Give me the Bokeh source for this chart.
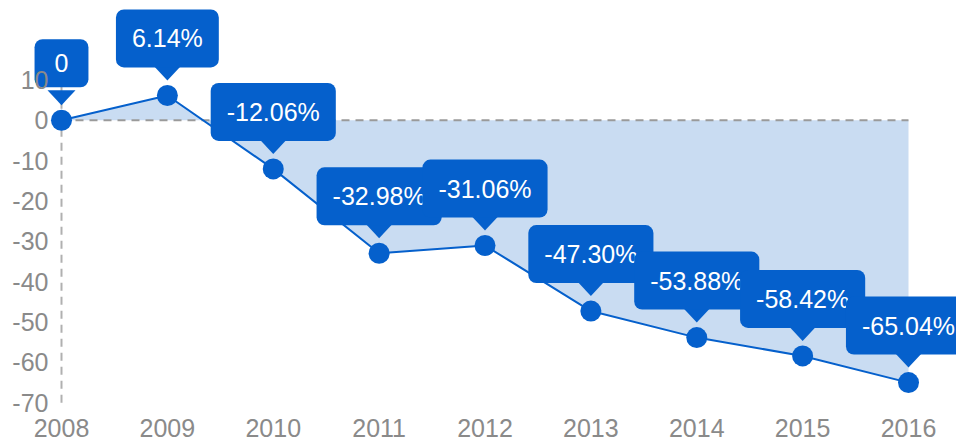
from bokeh.plotting import figure
from bokeh.models import Range1d, FixedTicker, Label, PrintfTickFormatter
from bokeh.embed import file_html
from bokeh.resources import INLINE

years = [2008, 2009, 2010, 2011, 2012, 2013, 2014, 2015, 2016]
values = [0, 6.14, -12.06, -32.98, -31.06, -47.30, -53.88, -58.42, -65.04]
labels = ["0", "6.14%", "-12.06%", "-32.98%", "-31.06%", "-47.30%", "-53.88%", "-58.42%", "-65.04%"]
y_ticks = [-70, -60, -50, -40, -30, -20, -10, 0, 10]

BLUE = "#0560cc"
FILL = "#c9dcf2"
GRAY = "#8a8a8a"
FONT = "Liberation Sans"

W, H = 956, 440
BL, BB = 30, 30
FW, FH = W - BL, H - BB
x0, x1 = 2007.7072, 2016.4533
y0, y1 = -71.95, 29.68
PX_X = FW / (x1 - x0)
PX_Y = FH / (y1 - y0)

p = figure(width=W, height=H, output_backend="svg", toolbar_location=None,
           x_range=Range1d(x0, x1), y_range=Range1d(y0, y1),
           min_border_left=BL, min_border_right=0, min_border_top=0, min_border_bottom=BB)
p.outline_line_color = None
p.grid.visible = False
p.background_fill_color = "white"

for ax in (p.xaxis[0], p.yaxis[0]):
    ax.axis_line_color = None
    ax.major_tick_out = 0
    ax.major_tick_in = 0
    ax.minor_tick_out = 0
    ax.minor_tick_in = 0
    ax.major_label_text_color = GRAY
    ax.major_label_text_font = FONT
    ax.major_label_text_font_size = "25px"
p.xaxis.major_label_standoff = 8
p.xaxis.major_label_text_line_height = 0.6
p.yaxis.major_label_standoff = -18
p.xaxis.ticker = FixedTicker(ticks=years)
p.yaxis.ticker = FixedTicker(ticks=y_ticks)
p.yaxis.formatter = PrintfTickFormatter(format="%d")
p.xaxis.formatter = PrintfTickFormatter(format="%d")

# area between zero and the series
p.varea(x=years, y1=[0] * len(years), y2=values, fill_color=FILL, fill_alpha=1)

# dashed zero line and dashed y axis line
p.segment(x0=[years[0]], y0=[0], x1=[years[-1]], y1=[0],
          line_color="#9a9a9a", line_width=2, line_dash="8 6")
p.segment(x0=[years[0]], y0=[min(y_ticks)], x1=[years[0]], y1=[max(y_ticks)],
          line_color="#b0b0b0", line_width=2, line_dash="8 6")

p.line(years, values, line_color=BLUE, line_width=2)
p.scatter(years, values, size=21, fill_color=BLUE, line_color=None)

# pointer triangles (pixel offsets converted through the scales)
tri_xs, tri_ys = [], []
for x, v in zip(years, values):
    tri_xs.append([x - 14 / PX_X, x + 14 / PX_X, x])
    tri_ys.append([v + 30 / PX_Y, v + 30 / PX_Y, v + 15 / PX_Y])
p.patches(tri_xs, tri_ys, fill_color=BLUE, line_color=None)

for x, v, t in zip(years, values, labels):
    pad_x = 20 if len(t) < 3 else 16
    p.add_layout(Label(x=x, y=v, text=t, x_offset=0, y_offset=57,
                       text_align="center", text_baseline="middle",
                       text_color="white", text_font=FONT, text_font_size="25px",
                       background_fill_color=BLUE, background_fill_alpha=1,
                       border_radius=8, padding=(pad_x, 15), level="glyph"))

open("out.html", "w").write(file_html(p, INLINE))
